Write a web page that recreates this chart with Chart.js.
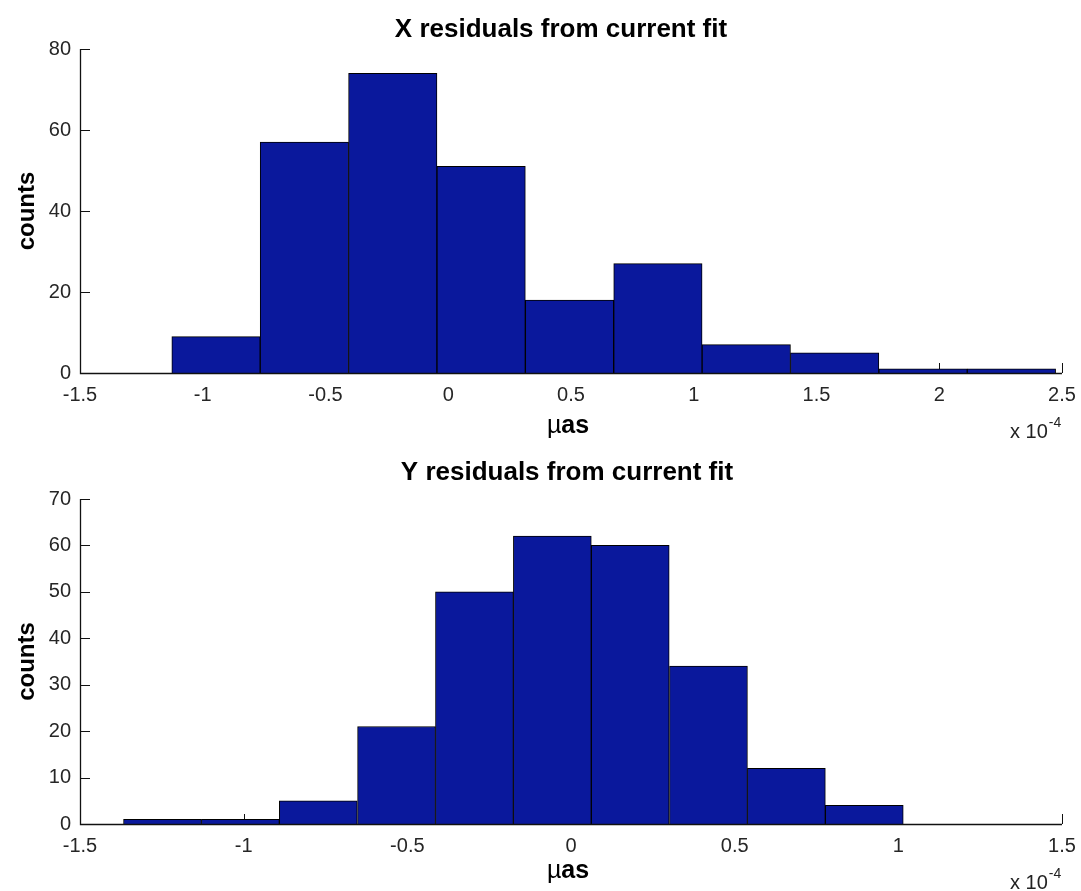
<!DOCTYPE html>
<html><head><meta charset="utf-8">
<script src="https://cdn.jsdelivr.net/npm/chart.js@4.4.1/dist/chart.umd.min.js"></script>
<style>
html,body{margin:0;padding:0;background:#fff;}
#wrap{position:relative;width:1081px;height:891px;overflow:hidden;}
.c{position:absolute;left:0;width:1081px;}
</style></head><body>
<div id="wrap">
<div class="c" style="top:0;height:445px"><canvas id="c1" width="1081" height="445"></canvas></div>
<div class="c" style="top:445px;height:446px"><canvas id="c2" width="1081" height="446"></canvas></div>
</div>
<script>
// ---- data (x values in units of 1e-4) ----
const xResBinCenters = [-0.946, -0.586, -0.226, 0.134, 0.494, 0.854, 1.214, 1.574, 1.934, 2.294];
const xResCounts     = [9, 57, 74, 51, 18, 27, 7, 5, 1, 1];
const yResBinCenters = [-1.248, -1.010, -0.772, -0.533, -0.295, -0.057, 0.181, 0.420, 0.658, 0.896];
const yResCounts     = [1, 1, 5, 21, 50, 62, 60, 34, 12, 4];

const topXTicks  = [-1.5, -1, -0.5, 0, 0.5, 1, 1.5, 2, 2.5];
const topXLabels = ['-1.5', '-1', '-0.5', '0', '0.5', '1', '1.5', '2', '2.5'];
const topYTicks  = [0, 20, 40, 60, 80];
const topYLabels = ['0', '20', '40', '60', '80'];
const botXTicks  = [-1.5, -1, -0.5, 0, 0.5, 1, 1.5];
const botXLabels = ['-1.5', '-1', '-0.5', '0', '0.5', '1', '1.5'];
const botYTicks  = [0, 10, 20, 30, 40, 50, 60, 70];
const botYLabels = ['0', '10', '20', '30', '40', '50', '60', '70'];

const topTitle = 'X residuals from current fit';
const botTitle = 'Y residuals from current fit';
const yAxisTitle = 'counts';
const xAxisMu = '\u00b5';
const xAxisRest = 'as';
const scaleText = 'x 10';
const scaleExp = '-4';

const FAMILY = "'Liberation Sans', Arial, Helvetica, sans-serif";
const BAR = '#0a189c';

const decor = {
  id: 'decor',
  beforeDatasetsDraw(chart, args, o) {
    const ctx = chart.ctx, xs = chart.scales.x, ys = chart.scales.y, a = chart.chartArea;
    ctx.save();
    ctx.strokeStyle = '#111';
    ctx.lineWidth = 1;
    ctx.beginPath();
    o.xTicks.forEach(v => {
      const px = Math.round(xs.getPixelForValue(v)) + 0.5;
      ctx.moveTo(px, a.bottom); ctx.lineTo(px, a.bottom - 10);
    });
    o.yTicks.forEach(v => {
      const py = Math.round(ys.getPixelForValue(v)) + 0.5;
      ctx.moveTo(a.left, py); ctx.lineTo(a.left + 10, py);
    });
    ctx.stroke();
    ctx.restore();
  },
  afterDatasetsDraw(chart) {
    const ctx = chart.ctx, a = chart.chartArea;
    ctx.save();
    ctx.strokeStyle = '#111';
    ctx.lineWidth = 1.3;
    ctx.beginPath();
    ctx.moveTo(Math.round(a.left) + 0.5, a.top);
    ctx.lineTo(Math.round(a.left) + 0.5, Math.round(a.bottom) + 0.5);
    ctx.lineTo(a.right, Math.round(a.bottom) + 0.5);
    ctx.stroke();
    ctx.restore();
  },
  afterDraw(chart, args, o) {
    const ctx = chart.ctx, a = chart.chartArea;
    ctx.save();
    ctx.fillStyle = '#000';
    ctx.font = 'bold 26px ' + FAMILY;
    ctx.textAlign = 'center';
    ctx.textBaseline = 'alphabetic';
    ctx.fillText(o.title, o.titleX, o.titleY);
    ctx.save();
    ctx.translate(34, (a.top + a.bottom) / 2);
    ctx.rotate(-Math.PI / 2);
    ctx.font = 'bold 24px ' + FAMILY;
    ctx.fillText(yAxisTitle, 0, 0);
    ctx.restore();
    ctx.textAlign = 'left';
    ctx.font = '25px ' + FAMILY;
    const wMu = ctx.measureText(xAxisMu).width;
    ctx.font = 'bold 25px ' + FAMILY;
    const wAs = ctx.measureText(xAxisRest).width;
    const x0 = 568 - (wMu + wAs) / 2;
    ctx.font = '25px ' + FAMILY;
    ctx.fillText(xAxisMu, x0, o.xlabY);
    ctx.font = 'bold 25px ' + FAMILY;
    ctx.fillText(xAxisRest, x0 + wMu, o.xlabY);
    ctx.fillStyle = '#222';
    ctx.font = '20px ' + FAMILY;
    ctx.fillText(scaleText, 1010, o.expY);
    const w10 = ctx.measureText(scaleText).width;
    ctx.font = '14px ' + FAMILY;
    ctx.fillText(scaleExp, 1010 + w10 + 1, o.expY - 11);
    ctx.restore();
  }
};

function makeChart(id, centers, counts, cfg) {
  return new Chart(document.getElementById(id), {
    type: 'bar',
    data: {
      datasets: [{
        data: centers.map((c, i) => ({ x: c, y: counts[i] })),
        backgroundColor: BAR,
        borderColor: '#000',
        borderWidth: 1,
        borderSkipped: 'start',
        barPercentage: 1,
        categoryPercentage: 1
      }]
    },
    options: {
      responsive: false,
      animation: false,
      devicePixelRatio: 1,
      layout: { padding: { top: cfg.padTop, right: 19, left: 0, bottom: 0 } },
      plugins: {
        legend: { display: false },
        tooltip: { enabled: false },
        title: { display: false },
        decor: cfg.decor
      },
      scales: {
        x: {
          type: 'linear',
          min: cfg.xTicks[0], max: cfg.xTicks[cfg.xTicks.length - 1],
          offset: false,
          grid: { display: false, offset: false },
          border: { display: false },
          afterBuildTicks: s => { s.ticks = cfg.xTicks.map(v => ({ value: v })); },
          afterFit: s => { s.height = cfg.xH; },
          ticks: {
            autoSkip: false, maxRotation: 0, padding: 2,
            color: '#262626', font: { family: FAMILY, size: 20 },
            callback: (v, i) => cfg.xLabels[i]
          }
        },
        y: {
          type: 'linear',
          min: cfg.yTicks[0], max: cfg.yTicks[cfg.yTicks.length - 1],
          grid: { display: false },
          border: { display: false },
          afterBuildTicks: s => { s.ticks = cfg.yTicks.map(v => ({ value: v })); },
          afterFit: s => { s.width = 80; },
          ticks: {
            padding: 1,
            color: '#262626', font: { family: FAMILY, size: 20 },
            callback: (v, i) => cfg.yLabels[i]
          }
        }
      }
    },
    plugins: [decor]
  });
}

makeChart('c1', xResBinCenters, xResCounts, {
  padTop: 49, xH: 445 - 373,
  xTicks: topXTicks, xLabels: topXLabels, yTicks: topYTicks, yLabels: topYLabels,
  decor: { title: topTitle, titleX: 561, titleY: 37, xlabY: 433, expY: 438,
           xTicks: topXTicks, yTicks: topYTicks }
});
makeChart('c2', yResBinCenters, yResCounts, {
  padTop: 54, xH: 446 - 379,
  xTicks: botXTicks, xLabels: botXLabels, yTicks: botYTicks, yLabels: botYLabels,
  decor: { title: botTitle, titleX: 567, titleY: 35, xlabY: 433, expY: 444,
           xTicks: botXTicks, yTicks: botYTicks }
});
</script>
</body></html>
